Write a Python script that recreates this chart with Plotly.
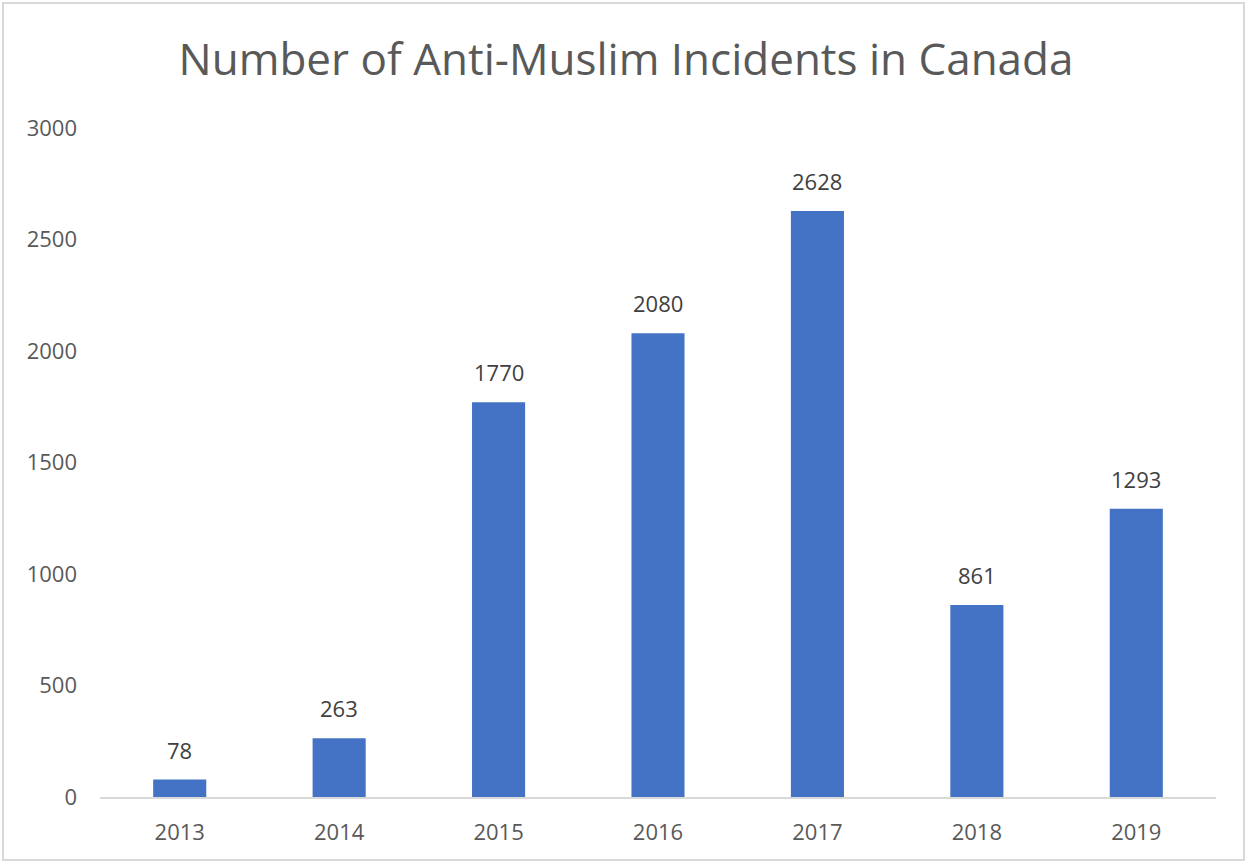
import plotly.graph_objects as go

years = ["2013", "2014", "2015", "2016", "2017", "2018", "2019"]
incidents = [78, 263, 1770, 2080, 2628, 861, 1293]
y_ticks = [0, 500, 1000, 1500, 2000, 2500, 3000]

FONT = "Open Sans"
W, H = 1248, 863
ml, mr, mt, mb = 100, 32, 128, 66
pw, ph = W - ml - mr, H - mt - mb

fig = go.Figure(go.Bar(
    x=years, y=incidents,
    marker=dict(color="#4472C4", line=dict(width=0)),
    width=0.333,
))

for i, v in enumerate(incidents):
    fig.add_annotation(x=i, y=v, text=str(v), showarrow=False,
                       yanchor="bottom", yshift=13,
                       font=dict(family=FONT, size=22, color="#404040"))

def px_x(p):
    return (p - ml) / pw

def px_y(p):
    return (H - mb - p) / ph

fig.add_shape(type="rect", xref="paper", yref="paper",
              x0=px_x(3), x1=px_x(1244), y0=px_y(860), y1=px_y(3),
              line=dict(color="#d9d9d9", width=2), fillcolor="rgba(0,0,0,0)",
              layer="below")

fig.update_layout(
    width=W, height=H,
    margin=dict(l=ml, r=mr, t=mt, b=mb),
    paper_bgcolor="white", plot_bgcolor="white",
    title=dict(text="Number of Anti-Muslim Incidents in Canada",
               x=(626 / W), xanchor="center", y=1 - 60 / H, yanchor="middle",
               font=dict(family=FONT, size=44, color="#595959")),
    showlegend=False,
    xaxis=dict(type="category", range=[-0.5, len(years) - 0.5],
               showline=True, linecolor="#d9d9d9", linewidth=2,
               showgrid=False, ticks="", zeroline=False,
               tickfont=dict(family=FONT, size=22, color="#595959"),
               ticklabelstandoff=15),
    yaxis=dict(range=[0, 3000], tickvals=y_ticks,
               showgrid=False, zeroline=False, showline=False, ticks="",
               tickfont=dict(family=FONT, size=22, color="#595959"),
               ticklabelstandoff=22),
)

fig.write_html("out.html", config={"displayModeBar": False},
               post_script="document.body.style.margin='0';document.body.style.overflow='hidden';")
